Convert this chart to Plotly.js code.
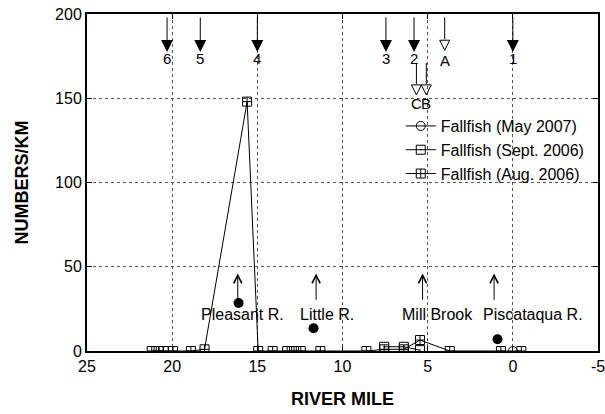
<!DOCTYPE html>
<html><head><meta charset="utf-8">
<script src="https://cdn.plot.ly/plotly-3.0.1.min.js"></script>
<style>html,body{margin:0;padding:0;background:#fff;}#chart{width:605px;height:414px;}</style>
</head><body><div id="chart"></div>
<script>
const FONT = 'Liberation Sans, Arial, Helvetica, sans-serif';

// ---- data ----
const mayMiles = [0.0];
const mayVals = [0];
const septMiles = [7.55, 6.4, 5.45];
const septVals = [2.5, 2.5, 0.5];
const augMiles = [21.2, 20.8, 20.5, 19.95, 18.9, 18.1, 15.6, 14.95, 14.1, 13.25, 12.85, 12.45, 11.3, 8.6, 7.55, 6.4, 5.45, 3.7, 0.7, -0.5];
const augVals  = [0, 0, 0, 0, 0, 1, 148, 0, 0, 0, 0, 0, 0, 0, 1, 1, 6.5, 0, 0, 0];
const tribDotMiles = [16.1, 11.7, 0.9];
const tribDotVals = [28.5, 13.5, 7];

const damMiles = [20.3, 18.35, 15.0, 7.45, 5.8, 0.0];
const damLabels = ['6', '5', '4', '3', '2', '1'];
const siteMiles = [4.0, 5.66, 5.08];
const siteLabels = ['A', 'C', 'B'];

const tribNames = ['Pleasant R.', 'Little R.', 'Mill Brook', 'Piscataqua R.'];
const tribArrowMiles = [16.15, 11.55, 5.3, 1.1];
const tribLabelMiles = [15.9, 10.9, 4.4, -1.2];

const xTickVals = [25, 20, 15, 10, 5, 0, -5];
const xTickText = ['25', '20', '15', '10', '5', '0', '-5'];

// ---- vertical placement of marks (axis units) ----
const damTop = 198, damTip = 177.5, damLabelY = 173.3;
const siteTop = [198, 171, 171], siteTip = [178.5, 152, 152], siteLabelY = [172.3, 147, 147];
const headLen = 6.5;
const tribTip = 46, tribTail = 29.5, tribLabelY = 21.5;

// shafts
const shaftX = [], shaftY = [];
damMiles.forEach(m => { shaftX.push(m, m, null); shaftY.push(damTop, damTip + 2, null); });
siteMiles.forEach((m, i) => { shaftX.push(m, m, null); shaftY.push(siteTop[i], siteTip[i] + headLen, null); });

const traces = [
  {x: mayMiles, y: mayVals, name: 'Fallfish (May 2007)', mode: 'lines+markers',
   line: {color: '#000', width: 1}, marker: {symbol: 'circle-open', size: 9, color: '#000', line: {width: 1}}},
  {x: septMiles, y: septVals, name: 'Fallfish (Sept. 2006)', mode: 'lines+markers',
   line: {color: '#000', width: 1}, marker: {symbol: 'square-open-dot', size: 9, color: '#000', line: {width: 1}}},
  {x: augMiles, y: augVals, name: 'Fallfish (Aug. 2006)', mode: 'lines+markers',
   line: {color: '#000', width: 1}, marker: {symbol: 'square-cross-open', size: 9, color: '#000', line: {width: 1}}},
  {x: tribDotMiles, y: tribDotVals, mode: 'markers', showlegend: false, hoverinfo: 'skip',
   marker: {symbol: 'circle', size: 10, color: '#000'}},
  {x: shaftX, y: shaftY, mode: 'lines', showlegend: false, hoverinfo: 'skip',
   line: {color: '#000', width: 1}},
  {x: damMiles, y: damMiles.map(() => damTip), mode: 'markers', showlegend: false, hoverinfo: 'skip',
   marker: {symbol: 'arrow-down', size: 12, color: '#000', line: {width: 0}}},
  {x: siteMiles, y: siteTip, mode: 'markers', showlegend: false, hoverinfo: 'skip',
   marker: {symbol: 'arrow-down-open', size: 10, color: '#000', line: {width: 1, color: '#000'}}}
];

const annotations = [];
damMiles.forEach((m, i) => annotations.push({x: m, y: damLabelY, text: damLabels[i], showarrow: false,
  xref: 'x', yref: 'y', font: {family: FONT, size: 15, color: '#000'}}));
siteMiles.forEach((m, i) => annotations.push({x: m, y: siteLabelY[i], text: siteLabels[i], showarrow: false,
  xref: 'x', yref: 'y', font: {family: FONT, size: 15, color: '#000'}}));
tribNames.forEach((n, i) => {
  annotations.push({x: tribLabelMiles[i], y: tribLabelY, text: n, showarrow: false, xref: 'x', yref: 'y',
    font: {family: FONT, size: 16, color: '#000'}});
  annotations.push({x: tribArrowMiles[i], y: tribTip, ax: tribArrowMiles[i], ay: tribTail, axref: 'x', ayref: 'y',
    xref: 'x', yref: 'y', text: '', showarrow: true, arrowhead: 5, arrowsize: 1.6, arrowwidth: 1, arrowcolor: '#000'});
});

const axisCommon = {
  showline: true, linecolor: '#000', linewidth: 2, mirror: 'ticks',
  ticks: 'inside', ticklen: 5, tickcolor: '#000', tickwidth: 1,
  showgrid: true, gridcolor: '#555', gridwidth: 1, griddash: '3px,3px',
  zeroline: false, tickfont: {family: FONT, size: 16, color: '#000'}
};

const layout = {
  width: 605, height: 414,
  margin: {l: 87, r: 7, t: 14, b: 63},
  paper_bgcolor: '#fff', plot_bgcolor: '#fff',
  font: {family: FONT, color: '#000'},
  showlegend: true,
  legend: {x: 0.614, y: 0.718, xanchor: 'left', yanchor: 'top', bgcolor: 'rgba(0,0,0,0)',
    font: {family: FONT, size: 16, color: '#000'}, traceorder: 'normal', tracegroupgap: 0},
  xaxis: Object.assign({}, axisCommon, {range: [25, -5], tickmode: 'array', tickvals: xTickVals, ticktext: xTickText,
    ticklabeloverflow: 'allow',
    title: {text: '<b>RIVER MILE</b>', font: {family: FONT, size: 18, color: '#000'}, standoff: 18}}),
  yaxis: Object.assign({}, axisCommon, {range: [0, 200], tick0: 0, dtick: 50,
    title: {text: '<b>NUMBERS/KM</b>', font: {family: FONT, size: 18, color: '#000'}, standoff: 22}}),
  annotations: annotations
};

Plotly.newPlot('chart', traces, layout, {staticPlot: true, displayModeBar: false});
</script>
</body></html>
